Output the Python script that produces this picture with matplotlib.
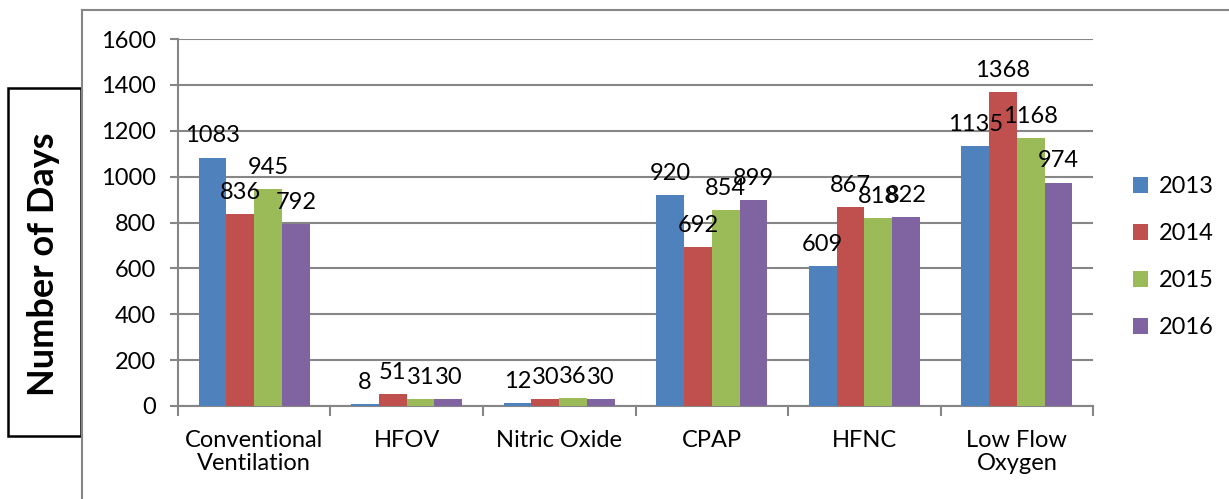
import matplotlib.pyplot as plt
import numpy as np
from matplotlib.lines import Line2D
from matplotlib.patches import Rectangle

plt.rcParams["font.family"] = ["Lato", "DejaVu Sans"]

categories = ["Conventional\nVentilation", "HFOV", "Nitric Oxide", "CPAP", "HFNC", "Low Flow\nOxygen"]
years = ["2013", "2014", "2015", "2016"]
days_2013 = [1083, 8, 12, 920, 609, 1135]
days_2014 = [836, 51, 30, 692, 867, 1368]
days_2015 = [945, 31, 36, 854, 818, 1168]
days_2016 = [792, 30, 30, 899, 822, 974]
series = [days_2013, days_2014, days_2015, days_2016]
colors = ["#4F81BD", "#C0504D", "#9BBB59", "#8064A2"]

grid_color = "#868686"
fs = 17

fig = plt.figure(figsize=(12.29, 4.99), dpi=100)
ax = fig.add_axes([0.1448, 0.1864, 0.7446, 0.7354])

x = np.arange(len(categories))
width = 0.182
offsets = (np.arange(len(series)) - 1.5) * width
for vals, off, color, year in zip(series, offsets, colors, years):
    bars = ax.bar(x + off, vals, width, color=color, label=year, zorder=3)
    ax.bar_label(bars, labels=[str(v) for v in vals], padding=8, fontsize=fs, zorder=4)

ax.set_xlim(-0.5, len(categories) - 0.5)
ax.set_ylim(0, 1600)
ax.set_yticks(range(0, 1601, 200))
ax.yaxis.grid(True, color=grid_color, linewidth=1.5, zorder=0)
ax.set_axisbelow(True)

ax.set_xticks(x)
ax.set_xticklabels(categories, fontsize=fs, linespacing=1.15)
ax.set_xticks(np.arange(-0.5, len(categories)), minor=True)
ax.tick_params(axis="x", which="major", length=0, pad=17)
ax.tick_params(axis="x", which="minor", length=7, width=1.5, color=grid_color)
ax.tick_params(axis="y", labelsize=fs, length=6, width=1.5, color=grid_color, pad=10)

for side in ("top", "right"):
    ax.spines[side].set_visible(False)
for side in ("left", "bottom"):
    ax.spines[side].set_color(grid_color)
    ax.spines[side].set_linewidth(1.5)

ax.legend(loc="center left", bbox_to_anchor=(1.02, 0.405), frameon=False, fontsize=fs,
          handlelength=0.65, handleheight=0.65, handletextpad=0.45, labelspacing=1.1)

# outer chart frame (left and top edges)
fig.add_artist(Line2D([82 / 1229, 82 / 1229], [0, 1 - 10 / 499], color=grid_color, linewidth=1.5))
fig.add_artist(Line2D([82 / 1229, 1], [1 - 10 / 499, 1 - 10 / 499], color=grid_color, linewidth=1.5))

# boxed axis title
box = Rectangle((8 / 1229, 1 - 436 / 499), 73 / 1229, 348 / 499,
                fill=False, edgecolor="black", linewidth=1.8, clip_on=False)
fig.add_artist(box)
fig.text(44 / 1229, 1 - 264 / 499, "Number of Days", rotation=90, ha="center", va="center",
         fontsize=26, fontweight="bold")

fig.savefig("out.png", dpi=100)
